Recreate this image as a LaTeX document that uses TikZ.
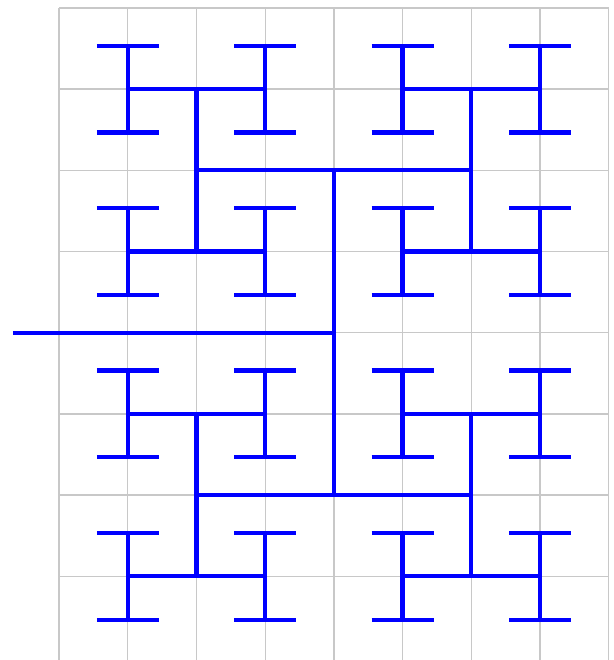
\documentclass[tikz,border=0pt]{standalone}
\usepackage{xcolor}
\usepackage{tikz}
\definecolor{gridgray}{RGB}{200,200,200}
\definecolor{treeblue}{RGB}{0,0,255}

\begin{document}
\begin{tikzpicture}[
    x=2.0616cm, y=2.436cm,
    gridline/.style={draw=gridgray, line width=1.1pt},
    branch/.style={draw=treeblue, line width=3.6pt}
]
    \useasboundingbox (-0.8586,-0.031) rectangle (8.062,8.097);
    \clip (-0.8586,-0.031) rectangle (8.062,8.097);
    \foreach \i in {0,...,8} {
        \draw[gridline] (\i,-0.1) -- (\i,8);
    }
    \foreach \i in {1,...,8} {
        \draw[gridline] (0,\i) -- (8,\i);
    }

    % stem and main H
    \draw[branch] (-0.67,4) -- (4,4);
    \draw[branch] (4,2) -- (4,6);
    \foreach \y in {2,6} {
        \draw[branch] (2,\y) -- (6,\y);
        \foreach \x in {2,6} {
            \draw[branch] (\x,\y-1) -- (\x,\y+1);
            \foreach \yy in {\y-1,\y+1} {
                \draw[branch] (\x-1,\yy) -- (\x+1,\yy);
                \foreach \xx in {\x-1,\x+1} {
                    \draw[branch] (\xx,\yy-0.535) -- (\xx,\yy+0.535);
                    \draw[branch] (\xx-0.45,\yy-0.535) -- (\xx+0.45,\yy-0.535);
                    \draw[branch] (\xx-0.45,\yy+0.535) -- (\xx+0.45,\yy+0.535);
                }
            }
        }
    }
\end{tikzpicture}
\end{document}
